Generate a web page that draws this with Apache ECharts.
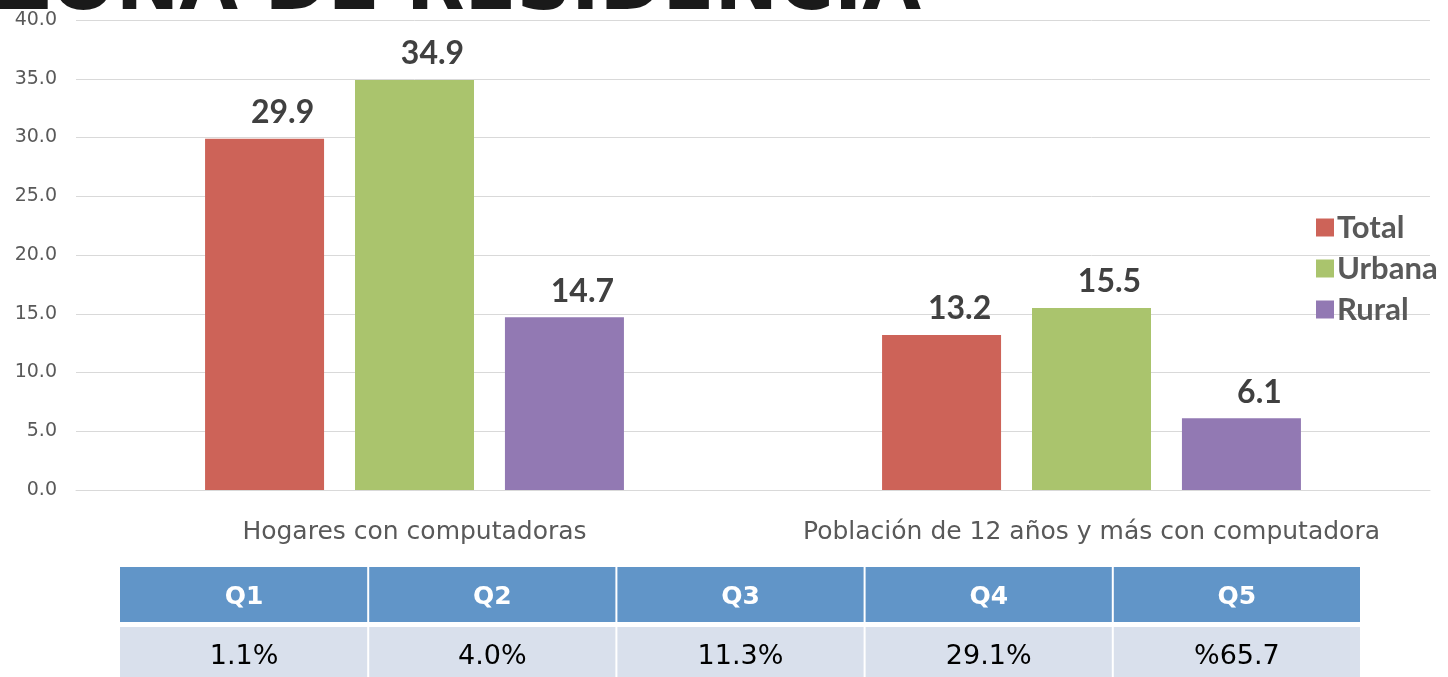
<!DOCTYPE html>
<html>
<head>
<meta charset="utf-8">
<script src="https://cdn.jsdelivr.net/npm/echarts@6/dist/echarts.min.js"></script>
<style>
html,body{margin:0;padding:0;background:#fff;}
#chart{width:1448px;height:677px;}
</style>
</head>
<body>
<div id="chart"></div>
<script>
const titleText = "ZONA DE RESIDENCIA";
const categories = ["Hogares con computadoras", "Población de 12 años y más con computadora"];
const seriesNames = ["Total", "Urbana", "Rural"];
const totalValues = [29.9, 13.2];
const urbanaValues = [34.9, 15.5];
const ruralValues = [14.7, 6.1];
const seriesColors = ["#CD6358", "#AAC46D", "#9279B3"];
const yTicks = [0, 5, 10, 15, 20, 25, 30, 35, 40];
const tableHeaders = ["Q1", "Q2", "Q3", "Q4", "Q5"];
const tableValues = ["1.1%", "4.0%", "11.3%", "29.1%", "%65.7"];

const chart = echarts.init(document.getElementById('chart'));
const font = "Lato, 'Open Sans', sans-serif";
const wideFont = "'DejaVu Sans', sans-serif";
const valuesList = [totalValues, urbanaValues, ruralValues];

const series = seriesNames.map((name, i) => ({
  name: name,
  type: 'bar',
  data: valuesList[i],
  barWidth: 119,
  barGap: '26%',
  itemStyle: { color: seriesColors[i] },
  label: {
    show: true,
    position: 'top',
    distance: 10,
    offset: [18, 0],
    formatter: p => p.value.toFixed(1),
    fontFamily: font,
    fontWeight: 'bold',
    fontSize: 32,
    color: '#404040'
  }
}));

const tLeft = 120, tRight = 1361, colW = (tRight - tLeft) / 5;
const graphics = [];
graphics.push({
  type: 'text', left: -4, top: -49,
  style: { text: titleText, fontFamily: wideFont, fontWeight: 'bold', fontSize: 76, fill: '#1a1a1a' }
});
tableHeaders.forEach((h, i) => {
  const x = tLeft + i * colW;
  graphics.push({ type: 'rect', shape: { x: x + (i ? 1 : 0), y: 567, width: colW - (i ? 1 : 0) - 1, height: 55 }, style: { fill: '#6195C8' } });
  graphics.push({ type: 'rect', shape: { x: x + (i ? 1 : 0), y: 627, width: colW - (i ? 1 : 0) - 1, height: 55 }, style: { fill: '#D9E0EC' } });
  graphics.push({ type: 'text', x: x + colW / 2, y: 597, style: { text: h, align: 'center', verticalAlign: 'middle', fontFamily: wideFont, fontWeight: 'bold', fontSize: 25, fill: '#ffffff' } });
  graphics.push({ type: 'text', x: x + colW / 2, y: 657, style: { text: tableValues[i], align: 'center', verticalAlign: 'middle', fontFamily: wideFont, fontSize: 27, fill: '#000000' } });
});

chart.setOption({
  animation: false,
  backgroundColor: '#ffffff',
  grid: { left: 76, right: 18, top: 20, bottom: 187, containLabel: false },
  legend: {
    data: seriesNames,
    orient: 'vertical',
    left: 1311,
    top: 207,
    itemWidth: 18,
    itemHeight: 18,
    itemGap: 10,
    icon: 'rect',
    textStyle: { fontFamily: font, fontWeight: 'bold', fontSize: 31, color: '#595959', padding: [0, 0, 0, -2] }
  },
  xAxis: {
    type: 'category',
    data: categories,
    axisLine: { lineStyle: { color: '#D9D9D9' } },
    axisTick: { show: false },
    axisLabel: { interval: 0, margin: 30, fontFamily: wideFont, fontSize: 25, color: '#595959' }
  },
  yAxis: {
    type: 'value',
    min: yTicks[0],
    max: yTicks[yTicks.length - 1],
    interval: yTicks[1] - yTicks[0],
    axisLine: { show: false },
    axisTick: { show: false },
    splitLine: { lineStyle: { color: '#D9D9D9', width: 1 } },
    axisLabel: { margin: 19, formatter: v => v.toFixed(1), fontFamily: wideFont, fontSize: 19, color: '#595959' }
  },
  series: series,
  graphic: graphics
});
</script>
</body>
</html>
